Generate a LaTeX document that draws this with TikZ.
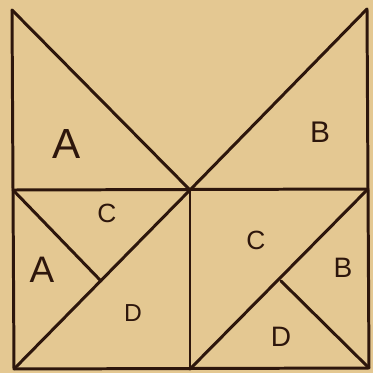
\documentclass[tikz,border=0pt]{standalone}
\usepackage{fontspec}
\setmainfont{Liberation Sans}
\definecolor{paper}{RGB}{228,200,146}
\definecolor{ink}{RGB}{45,22,12}
\usetikzlibrary{positioning}
\tikzset{
  edge/.style={draw=ink, line width=1.7pt, line cap=round, line join=round},
  lbl/.style={text=ink, inner sep=0pt, font=\fontsize{#1}{#1}\selectfont},
}

\begin{document}
\begin{tikzpicture}[x=0.02cm, y=-0.02cm]
      \fill[paper] (0,0) rectangle (373,373);
      \useasboundingbox (0,0) rectangle (373,373);
      % corners, middle and feet
      \coordinate (tl) at (12,10);
      \coordinate (tr) at (367,9);
      \coordinate (bl) at (14,369);
      \coordinate (br) at (369,368);
      \coordinate (ml) at (13,190);
      \coordinate (mr) at (368,189);
      \coordinate (mc) at (190,190);
      \coordinate (mb) at (190,369);
      \coordinate (fl) at (101,281);
      \coordinate (fr) at (281,281);
      \draw[edge] (tl) -- (bl) -- (br) -- (tr);
      \draw[edge] (tl) -- (mc) -- (tr);
      \draw[edge] (ml) -- (mr);
      \draw[edge] (mc) -- (mb);
      \draw[edge] (bl) -- (mc);
      \draw[edge] (ml) -- (fl);
      \draw[edge] (mb) -- (mr);
      \draw[edge] (fr) -- (br);
      % letters
      \node[lbl=24] (a1) at (67,144) {A};
      \node[lbl=17] (b1) at (320,132) {B};
      \node[lbl=15] (c1) at (107,213) {C};
      \node[lbl=21] (a2) at (42,270) {A};
      \node[lbl=14] (d1) at (133,313) {D};
      \node[lbl=15] (c2) at (256,240) {C};
      \node[lbl=16] (b2) at (343,268) {B};
      \node[lbl=16] (d2) at (281,337) {D};
\end{tikzpicture}
\end{document}
